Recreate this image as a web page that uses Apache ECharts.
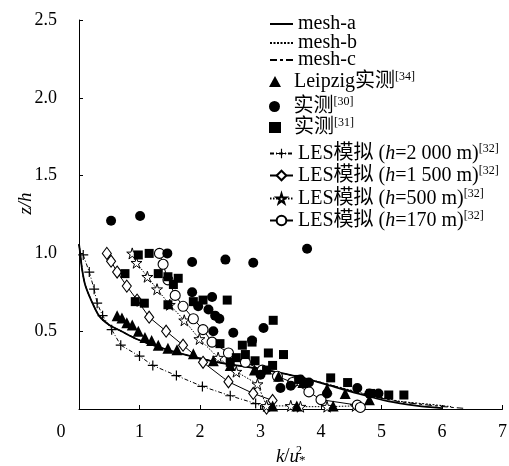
<!DOCTYPE html>
<html><head><meta charset="utf-8">
<script src="https://cdn.jsdelivr.net/npm/echarts@6/dist/echarts.min.js"></script>
<style>html,body{margin:0;padding:0;background:#fff}#c{width:509px;height:466px}</style>
</head><body><div id="c"></div>
<script>
// ---------- data ----------
const xTickLabels = ['0','1','2','3','4','5','6','7'];
const yTickLabels = ['', '0.5', '1.0', '1.5', '2.0', '2.5'];
const seriesNames = ['mesh-a','mesh-b','mesh-c','Leipzig实测[34]','实测[30]','实测[31]',
  'LES模拟 (h=2 000 m)[32]','LES模拟 (h=1 500 m)[32]','LES模拟 (h=500 m)[32]','LES模拟 (h=170 m)[32]'];

// [k/u*^2, z/h]
const meshA = [[0,1.06],[0.02,1.0],[0.05,0.9],[0.1,0.8],[0.2,0.7],[0.33,0.6],[0.5,0.54],[0.7,0.5],[0.95,0.45],[1.3,0.4],[1.75,0.35],[2.3,0.3],[3.1,0.25],[3.7,0.2],[4.15,0.15],[4.6,0.1],[5.1,0.05],[5.6,0.02],[6.0,0.005]];
const meshB = [[0,1.06],[0.02,1.0],[0.05,0.9],[0.1,0.8],[0.2,0.7],[0.33,0.6],[0.5,0.54],[0.7,0.5],[0.95,0.45],[1.3,0.4],[1.75,0.35],[2.3,0.3],[3.1,0.25],[3.7,0.2],[4.2,0.15],[4.7,0.1],[5.3,0.05],[5.8,0.03],[6.15,0.015]];
const meshC = [[0,1.06],[0.02,1.0],[0.05,0.9],[0.1,0.8],[0.2,0.7],[0.33,0.6],[0.5,0.54],[0.7,0.5],[0.95,0.45],[1.3,0.4],[1.75,0.35],[2.3,0.3],[3.1,0.25],[3.7,0.2],[4.2,0.15],[4.65,0.1],[5.25,0.05],[5.9,0.02],[6.35,0.005]];
const leipzig = [[0.63,0.6],[0.71,0.585],[0.79,0.555],[0.88,0.54],[0.98,0.5],[1.09,0.46],[1.2,0.44],[1.31,0.41],[1.47,0.39],[1.62,0.38],[1.89,0.355],[2.22,0.31],[2.5,0.28],[2.9,0.25],[3.3,0.21],[3.7,0.17],[4.1,0.13],[4.4,0.1],[4.8,0.06],[3.2,0.02],[3.6,0.02],[4.2,0.02]];
const obs30 = [[0.53,1.21],[1.01,1.24],[3.77,1.03],[1.46,1.0],[1.87,0.945],[2.42,0.96],[2.88,0.94],
  [1.87,0.75],[2.2,0.72],[1.97,0.66],[2.14,0.64],[2.25,0.6],[2.32,0.58],[2.22,0.5],[2.55,0.49],[3.05,0.52],[2.86,0.44],
  [3.33,0.135],[3.66,0.19],[3.8,0.17],[4.6,0.135],[4.8,0.1],[4.95,0.1],[3.0,0.22],[3.5,0.15],[4.1,0.1]];
const obs31 = [[0.98,0.99],[1.16,1.0],[0.76,0.87],[1.31,0.87],[1.47,0.85],[1.64,0.84],[1.56,0.8],[0.93,0.69],[1.08,0.68],[1.47,0.67],[1.89,0.69],[2.05,0.7],[2.45,0.7],[3.21,0.57],[2.33,0.42],[2.7,0.41],[2.86,0.43],[2.75,0.35],[2.5,0.3],[2.91,0.31],[2.6,0.33],[3.13,0.36],[3.38,0.35],[3.2,0.28],[3.63,0.19],[4.16,0.2],[4.44,0.17],[4.82,0.1],[5.12,0.09],[5.37,0.09],[3.1,0.25]];
const les2000 = [[0.07,0.99],[0.17,0.88],[0.25,0.77],[0.3,0.68],[0.39,0.6],[0.54,0.51],[0.69,0.41],[1.0,0.34],[1.22,0.28],[1.61,0.215],[2.04,0.145],[2.5,0.085],[2.92,0.035],[3.1,0.005]];
const les1500 = [[0.46,1.0],[0.53,0.95],[0.63,0.88],[0.79,0.79],[0.96,0.7],[1.16,0.59],[1.44,0.5],[1.72,0.41],[2.05,0.3],[2.47,0.175],[2.88,0.1],[3.2,0.055],[3.1,0.005]];
const les500 = [[0.88,1.0],[0.95,0.94],[1.13,0.85],[1.29,0.77],[1.5,0.67],[1.74,0.57],[1.99,0.45],[2.3,0.33],[2.6,0.24],[2.95,0.16],[3.1,0.02],[3.5,0.02],[3.66,0.015],[4.1,0.015],[4.57,0.02]];
const les170 = [[1.33,1.0],[1.39,0.93],[1.47,0.83],[1.59,0.73],[1.72,0.66],[1.89,0.58],[2.05,0.51],[2.2,0.43],[2.47,0.36],[2.75,0.3],[3.03,0.25],[3.28,0.21],[3.53,0.17],[3.8,0.11],[4.0,0.06],[4.6,0.025],[4.65,0.01]];

// ---------- style / layout ----------
const FONT = 'Liberation Serif';
const LFONT = 'Liberation Serif, Noto Sans CJK SC, serif';
const legendCenters = [24, 43, 60, 81, 106, 127, 153, 175, 198, 220];
const PLUS = 'path://M0,44H100V56H0ZM44,0H56V100H44Z';
const STAR = 'path://M50,0L61,35L98,35L68,57L79,91L50,70L21,91L32,57L2,35L39,35Z';

function lineSeries(name, data, lineStyle, extra) {
  return Object.assign({ name, type: 'line', data, symbol: 'none', smooth: false,
    lineStyle: Object.assign({ color: '#000' }, lineStyle), itemStyle: { color: '#000' },
    animation: false, z: 2 }, extra || {});
}
function scatterSeries(name, data, symbol, size) {
  return { name, type: 'scatter', data, symbol, symbolSize: size,
    itemStyle: { color: '#000', opacity: 1 }, animation: false, z: 4 };
}

const series = [
  lineSeries(seriesNames[0], meshA, { width: 1.8 }, { smooth: 0.25 }),
  lineSeries(seriesNames[1], meshB, { width: 1.1, type: [2, 1.5] }, { smooth: 0.25 }),
  lineSeries(seriesNames[2], meshC, { width: 1.1, type: [7, 3, 3, 3] }, { smooth: 0.25 }),
  scatterSeries(seriesNames[3], leipzig, 'triangle', 11),
  scatterSeries(seriesNames[4], obs30, 'circle', 10),
  scatterSeries(seriesNames[5], obs31, 'rect', 9),
  lineSeries(seriesNames[6], les2000, { width: 1, type: [4, 2, 1, 2] },
    { symbol: PLUS, symbolSize: 10, showAllSymbol: true, itemStyle: { color: '#000' } }),
  lineSeries(seriesNames[7], les1500, { width: 1 },
    { symbol: 'diamond', symbolSize: [9, 12], showAllSymbol: true, itemStyle: { color: '#fff', borderColor: '#000', borderWidth: 1.1 } }),
  lineSeries(seriesNames[8], les500, { width: 1, type: [1.5, 1.5] },
    { symbol: STAR, symbolSize: 11, showAllSymbol: true, itemStyle: { color: '#fff', borderColor: '#000', borderWidth: 1 } }),
  lineSeries(seriesNames[9], les170, { width: 1 },
    { symbol: 'circle', symbolSize: 10, showAllSymbol: true, itemStyle: { color: '#fff', borderColor: '#000', borderWidth: 1.1 } })
];

const legendRich = {
  sup: { fontFamily: LFONT, fontSize: 12, color: '#000', padding: [0, 0, 9, 0] },
  i: { fontFamily: LFONT, fontSize: 20, fontStyle: 'italic', color: '#000' },
  g: { width: 8 }
};
function legendFmt(name) {
  return name.replace(/\[(\d+)\]$/, '{sup|[$1]}').replace('h=', '{i|h}=');
}
const legends = seriesNames.map((n, idx) => {
  const isScatter = idx >= 3 && idx <= 5;
  const isMesh = idx <= 2;
  const lg = {
    data: [n], left: 269, top: legendCenters[idx] - 10, orient: 'vertical',
    itemWidth: isScatter ? 12 : 23, itemHeight: isScatter ? 11 : 12, padding: 0,
    formatter: isScatter ? (x => '{g|}' + legendFmt(x)) : legendFmt,
    textStyle: { fontFamily: LFONT, fontSize: 20, color: '#000', lineHeight: 20, rich: legendRich },
    selectedMode: false
  };
  if (isMesh) lg.itemStyle = { opacity: 0 };
  return lg;
});

const chart = echarts.init(document.getElementById('c'), null, { renderer: 'canvas' });
chart.setOption({
  backgroundColor: '#fff',
  animation: false,
  textStyle: { fontFamily: LFONT, color: '#000' },
  grid: { left: 79, right: 6.5, top: 20, bottom: 57, containLabel: false, outerBoundsMode: 'none' },
  legend: legends,
  xAxis: {
    type: 'value', min: 0, max: 7, interval: 1,
    axisLine: { lineStyle: { color: '#000', width: 1 } },
    axisTick: { inside: true, length: 4, lineStyle: { color: '#000' } },
    splitLine: { show: false },
    axisLabel: {
      color: '#000', fontFamily: FONT, fontSize: 18, margin: 14,
      formatter: v => '{' + (v === 0 ? 'o' : 'a') + '|' + xTickLabels[Math.round(v)] + '}',
      rich: {
        o: { fontFamily: FONT, fontSize: 18, color: '#000', padding: [0, 36, 0, 0] },
        a: { fontFamily: FONT, fontSize: 18, color: '#000' }
      }
    },
    name: '{i|k}{n|/}{i|u}{sup|2}{sub|*}', nameLocation: 'middle', nameGap: 36, nameMoveOverlap: false,
    nameTextStyle: {
      fontFamily: FONT,
      rich: {
        i: { fontFamily: FONT, fontSize: 19, fontStyle: 'italic', color: '#000' },
        n: { fontFamily: FONT, fontSize: 19, color: '#000' },
        sup: { fontFamily: FONT, fontSize: 12, color: '#000', width: 0, padding: [0, 0, 11, 0] },
        sub: { fontFamily: FONT, fontSize: 13, color: '#000', padding: [9, 0, 0, 0] }
      }
    }
  },
  yAxis: {
    type: 'value', min: 0, max: 2.5, interval: 0.5,
    axisLine: { show: true, lineStyle: { color: '#000', width: 1 } },
    axisTick: { show: true, inside: true, length: 4, lineStyle: { color: '#000' } },
    splitLine: { show: false },
    axisLabel: { color: '#000', fontFamily: FONT, fontSize: 18, margin: 22,
      formatter: v => '{a|' + yTickLabels[Math.round(v / 0.5)] + '}',
      rich: { a: { fontFamily: FONT, fontSize: 18, color: '#000' } } },
    name: '{i|z}{i|/}{i|h}', nameLocation: 'middle', nameGap: 44, nameRotate: 90, nameMoveOverlap: false,
    nameTextStyle: { fontFamily: FONT, fontSize: 19, fontStyle: 'italic', color: '#000', padding: [0, 0, 0, 22],
      rich: { i: { fontFamily: FONT, fontSize: 19, fontStyle: 'italic', color: '#000' } } }
  },
  series
});
</script>
</body></html>
